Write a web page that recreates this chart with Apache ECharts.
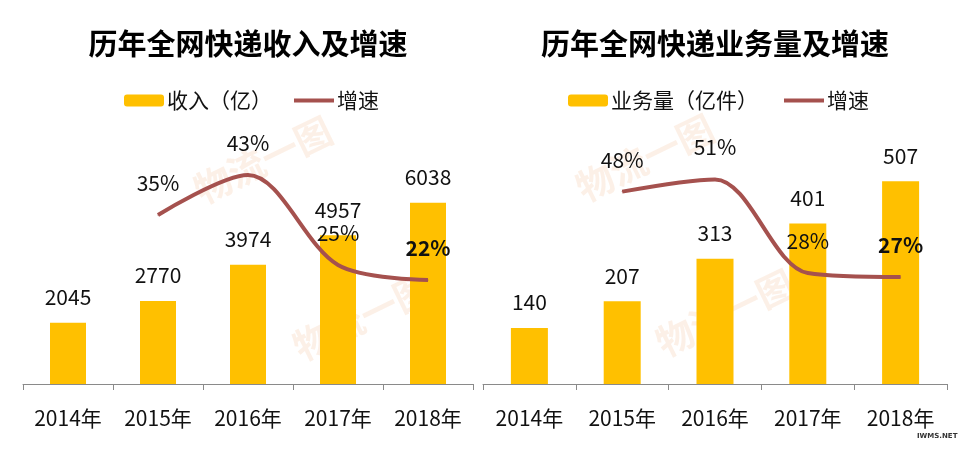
<!DOCTYPE html>
<html>
<head>
<meta charset="utf-8">
<style>html,body{margin:0;padding:0;background:#fff}#main{width:969px;height:449px}</style>
<script src="https://cdn.jsdelivr.net/npm/echarts@6/dist/echarts.min.js"></script>
</head>
<body>
<div id="main"></div>
<script>
var years = ['2014年', '2015年', '2016年', '2017年', '2018年'];
var income = [2045, 2770, 3974, 4957, 6038];
var incomeGrowth = [null, 35, 43, 25, 22];
var volume = [140, 207, 313, 401, 507];
var volumeGrowth = [null, 48, 51, 28, 27];

var FONT = '"Noto Sans CJK SC", "Noto Sans", sans-serif';
var BAR = '#FFC000';
var LINE = '#A5514E';
var TEXT = '#111';

function xAxis(grid) {
  return {
    type: 'category',
    gridIndex: grid,
    data: years,
    axisLine: { lineStyle: { color: '#8a8a8a', width: 1 } },
    axisTick: { show: true, length: 6, lineStyle: { color: '#8a8a8a' } },
    axisLabel: { color: TEXT, fontSize: 21, fontFamily: FONT, margin: 24, interval: 0 }
  };
}

function yAxis(grid, min, max) {
  return { type: 'value', gridIndex: grid, min: min, max: max, show: false, splitLine: { show: false } };
}

function barSeries(name, data, axis, width) {
  return {
    type: 'bar', name: name, data: data, xAxisIndex: axis, yAxisIndex: axis * 2,
    barWidth: width, itemStyle: { color: BAR },
    label: { show: true, position: 'top', distance: 15, color: TEXT, fontSize: 21, fontFamily: FONT }
  };
}

function lineSeries(data, axis) {
  return {
    type: 'line', name: '增速', xAxisIndex: axis, yAxisIndex: axis * 2 + 1,
    smooth: 0.32, symbol: 'none', z: 4,
    lineStyle: { color: LINE, width: 4 }, itemStyle: { color: LINE },
    data: data.map(function (v, i) {
      if (v === null) return null;
      return {
        value: v,
        symbol: 'circle',
        symbolSize: 1,
        label: {
          show: true, position: 'top', distance: 21, formatter: '{c}%',
          color: TEXT, fontSize: 21, fontFamily: FONT,
          fontWeight: i === data.length - 1 ? 'bold' : 'normal'
        }
      };
    })
  };
}

function legend(left, gap, barName) {
  return {
    left: left, top: 85, itemWidth: 40, itemHeight: 12, itemGap: gap,
    data: [
      { name: barName },
      // thin bar instead of the line icon, which always carries a dot
      { name: '增速', icon: 'path://M0 0H40V4H0Z' }
    ],
    selectedMode: false,
    textStyle: { color: TEXT, fontSize: 21, fontFamily: FONT, padding: [0, 0, 0, -2] }
  };
}

function watermark(x, y) {
  return {
    type: 'text', x: x, y: y, rotation: 26 * Math.PI / 180, z: 0,
    style: {
      text: '物流一图', fill: 'rgba(238,160,105,0.16)', fontSize: 37, fontWeight: 'bold',
      fontFamily: FONT, textAlign: 'center', textVerticalAlign: 'middle'
    }
  };
}

var myChart = echarts.init(document.getElementById('main'));
var option = {
  animation: false,
  backgroundColor: '#fff',
  title: [
    { text: '历年全网快递收入及增速', left: 243, top: 24, textAlign: 'center',
      textStyle: { color: '#000', fontSize: 29, fontWeight: 'bold', fontFamily: FONT } },
    { text: '历年全网快递业务量及增速', left: 710, top: 24, textAlign: 'center',
      textStyle: { color: '#000', fontSize: 29, fontWeight: 'bold', fontFamily: FONT } }
  ],
  legend: [legend(119, 22, '收入（亿）'), legend(563, 26, '业务量（亿件）')],
  grid: [
    { left: 23, width: 450, top: 100, height: 284 },
    { left: 483, width: 464, top: 100, height: 284 }
  ],
  xAxis: [xAxis(0), xAxis(1)],
  yAxis: [yAxis(0, 0, 9467), yAxis(0, 1.2, 58), yAxis(1, 0, 710), yAxis(1, 0.75, 70.5)],
  series: [
    barSeries('收入（亿）', income, 0, 36),
    lineSeries(incomeGrowth, 0),
    barSeries('业务量（亿件）', volume, 1, 37),
    lineSeries(volumeGrowth, 1)
  ],
  graphic: [
    watermark(263, 160),
    watermark(362, 317),
    watermark(645, 158),
    watermark(725, 313),
    {
      type: 'text', x: 917, y: 433, z: 10,
      style: { text: 'IWMS.NET', fill: '#333', fontSize: 7, fontWeight: 'bold', fontFamily: 'DejaVu Sans' }
    }
  ]
};
myChart.setOption(option);
</script>
</body>
</html>
